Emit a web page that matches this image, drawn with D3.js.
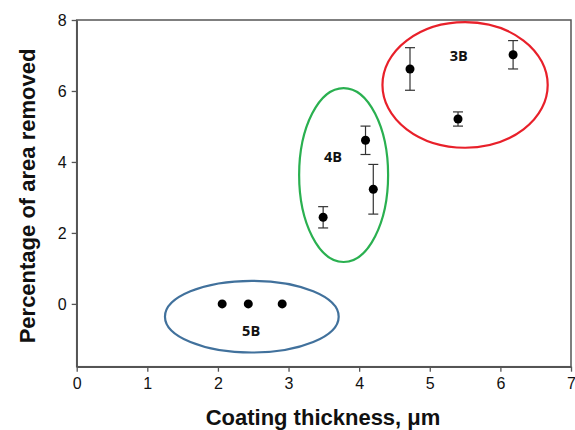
<!DOCTYPE html>
<html>
<head>
<meta charset="utf-8">
<script src="https://cdn.jsdelivr.net/npm/d3@7"></script>
<style>
  body { margin: 0; background: #fff; }
  svg { display: block; }
</style>
</head>
<body>
<svg id="chart" width="575" height="430"></svg>
<script>
// data
const thickness = [2.06, 2.43, 2.91, 3.49, 4.09, 4.20, 4.72, 5.40, 6.18]
const removed   = [0, 0, 0, 2.44, 4.61, 3.23, 6.62, 5.21, 7.02]
const errors    = [0, 0, 0, 0.30, 0.40, 0.70, 0.60, 0.20, 0.40]

const groupNames   = ["5B", "4B", "3B"]
const groupCx      = [2.48, 3.78, 5.50]
const groupCy      = [-0.36, 3.63, 6.17]
const groupRx      = [1.23, 0.63, 1.17]
const groupRy      = [1.01, 2.45, 1.77]
const labelX       = [2.47, 3.63, 5.41]
const labelY       = [-0.80, 4.10, 6.95]
const groupColors  = ["#41719c", "#2ab050", "#e8202a"]

const xTicks = [0, 1, 2, 3, 4, 5, 6, 7]
const yTicks = [0, 2, 4, 6, 8]

const svg = d3.select('#chart')

let x = d3.scaleLinear().domain([0, 7]).range([76.7, 571])
let y = d3.scaleLinear().domain([-1.77, 8]).range([366.7, 20])

// frame
svg.append('rect')
    .attr('x', x(0)).attr('y', y(8))
    .attr('width', x(7) - x(0)).attr('height', y(-1.77) - y(8))
    .attr('fill', 'none').attr('stroke', '#555').attr('stroke-width', 1.5)

let axisB = d3.axisBottom(x).tickValues(xTicks).tickSize(5).tickSizeOuter(0).tickFormat(d3.format('d'))
let axisL = d3.axisLeft(y).tickValues(yTicks).tickSize(5).tickSizeOuter(0).tickFormat(d3.format('d'))

svg.append('g')
    .attr('transform', `translate(0, ${y(-1.77)})`)
    .call(axisB)
    .call(g => g.select('.domain').attr('stroke', '#555').attr('stroke-width', 1.5))
    .call(g => g.selectAll('.tick line').attr('stroke', '#555').attr('stroke-width', 1.3))
    .call(g => g.selectAll('.tick text').attr('font-family', 'Liberation Sans, Arial, sans-serif')
        .attr('font-size', 16).attr('fill', '#111').attr('dy', '0.9em'))

svg.append('g')
    .attr('transform', `translate(${x(0)}, 0)`)
    .call(axisL)
    .call(g => g.select('.domain').attr('stroke', '#555').attr('stroke-width', 1.5))
    .call(g => g.selectAll('.tick line').attr('stroke', '#555').attr('stroke-width', 1.3))
    .call(g => g.selectAll('.tick text').attr('font-family', 'Liberation Sans, Arial, sans-serif')
        .attr('font-size', 16).attr('fill', '#111').attr('x', -10))

// group ellipses
svg.append('g')
    .selectAll('ellipse')
    .data(groupNames)
    .join('ellipse')
    .attr('cx', (d, i) => x(groupCx[i]))
    .attr('cy', (d, i) => y(groupCy[i]))
    .attr('rx', (d, i) => x(groupRx[i]) - x(0))
    .attr('ry', (d, i) => y(0) - y(groupRy[i]))
    .attr('fill', 'none')
    .attr('stroke', (d, i) => groupColors[i])
    .attr('stroke-width', 2.2)

svg.append('g')
    .selectAll('text')
    .data(groupNames)
    .join('text')
    .attr('x', (d, i) => x(labelX[i]))
    .attr('y', (d, i) => y(labelY[i]))
    .attr('text-anchor', 'middle')
    .attr('dominant-baseline', 'middle')
    .attr('font-family', 'Open Sans, sans-serif')
    .attr('font-weight', 'bold')
    .attr('font-size', 14.5)
    .attr('fill', '#111')
    .text(d => d)

// error bars
let pts = thickness.map((t, i) => ({x: t, y: removed[i], e: errors[i]}))
let eg = svg.append('g').attr('stroke', '#333').attr('stroke-width', 1.2)
pts.filter(d => d.e > 0).forEach(d => {
    eg.append('line').attr('x1', x(d.x)).attr('x2', x(d.x)).attr('y1', y(d.y + d.e)).attr('y2', y(d.y - d.e))
    eg.append('line').attr('x1', x(d.x) - 5).attr('x2', x(d.x) + 5).attr('y1', y(d.y + d.e)).attr('y2', y(d.y + d.e))
    eg.append('line').attr('x1', x(d.x) - 5).attr('x2', x(d.x) + 5).attr('y1', y(d.y - d.e)).attr('y2', y(d.y - d.e))
})

svg.append('g')
    .selectAll('circle')
    .data(pts)
    .join('circle')
    .attr('cx', d => x(d.x))
    .attr('cy', d => y(d.y))
    .attr('r', 4.5)
    .attr('fill', '#000')

// axis titles
svg.append('text')
    .attr('x', 323).attr('y', 425)
    .attr('text-anchor', 'middle')
    .attr('font-family', 'Liberation Sans, Arial, sans-serif')
    .attr('font-weight', 'bold').attr('font-size', 22)
    .attr('fill', '#111')
    .text('Coating thickness, μm')

svg.append('text')
    .attr('transform', 'translate(35, 196) rotate(-90)')
    .attr('text-anchor', 'middle')
    .attr('font-family', 'Liberation Sans, Arial, sans-serif')
    .attr('font-weight', 'bold').attr('font-size', 22)
    .attr('fill', '#111')
    .text('Percentage of area removed')
</script>
</body>
</html>
